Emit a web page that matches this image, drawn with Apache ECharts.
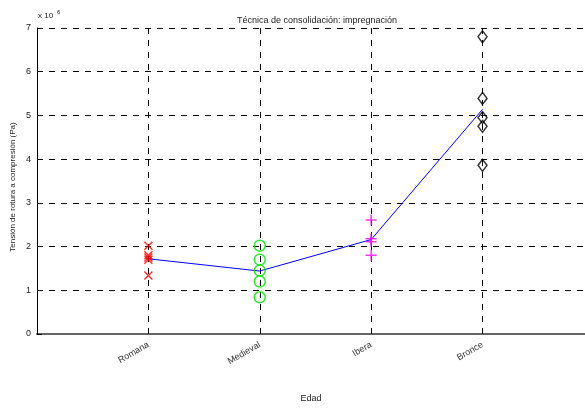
<!DOCTYPE html>
<html><head><meta charset="utf-8">
<script src="https://cdn.jsdelivr.net/npm/echarts@6/dist/echarts.min.js"></script>
<style>html,body{margin:0;padding:0;background:#fff}#c{width:585px;height:408px}</style>
</head><body><div id="c"></div>
<script>
const categories = ['Romana', 'Medieval', 'Ibera', 'Bronce'];
const romana = [2.02, 1.80, 1.75, 1.70, 1.34];
const medieval = [2.02, 1.70, 1.45, 1.20, 0.84];
const ibera = [2.61, 2.18, 2.11, 1.80];
const bronce = [6.80, 5.39, 4.95, 4.75, 3.86];
const means = [1.72, 1.44, 2.16, 5.14];
const yTicks = [0, 1, 2, 3, 4, 5, 6, 7];

const font = 'Liberation Sans, Arial, sans-serif';
const groups = [romana, medieval, ibera, bronce];
const styles = [
  {symbol: 'path://M0,0L10,10M10,0L0,10', size: 8, color: '#ff0000'},
  {symbol: 'circle', size: 11, color: '#00dd00'},
  {symbol: 'path://M5,0L5,10M0,5L10,5', size: 11, color: '#ff00ff'},
  {symbol: 'diamond', size: [9, 12], color: '#000000'}
];
const series = groups.map((g, i) => ({
  type: 'scatter',
  data: g.map(v => [i + 1, v]),
  symbol: styles[i].symbol,
  symbolSize: styles[i].size,
  itemStyle: {color: 'none', borderColor: styles[i].color, borderWidth: 1.5},
  z: 3,
  silent: true
}));
series.unshift({
  type: 'line',
  data: means.map((v, i) => [i + 1, v]),
  symbol: 'none',
  lineStyle: {color: '#0000ff', width: 1},
  z: 2,
  silent: true
});

const chart = echarts.init(document.getElementById('c'));
chart.setOption({
  animation: false,
  backgroundColor: '#fff',
  title: {
    text: 'Técnica de consolidación: impregnación',
    left: 312, top: 11, textAlign: 'center',
    textStyle: {fontFamily: font, fontSize: 9, fontWeight: 'normal', color: '#222'}
  },
  grid: {left: 37, top: 28, bottom: 72, right: 0, containLabel: false},
  xAxis: {
    type: 'value', min: 0, max: 4.92, interval: 1,
    name: 'Edad', nameLocation: 'middle', nameGap: 60,
    nameTextStyle: {fontFamily: font, fontSize: 9, color: '#222'},
    axisLine: {show: true, onZero: false, lineStyle: {color: '#666', width: 2}},
    axisTick: {show: true, inside: true, length: 6, lineStyle: {color: '#000'}},
    axisLabel: {
      fontFamily: font, fontSize: 9, color: '#333', rotate: 30, margin: 10,
      showMaxLabel: false,
      formatter: v => (v >= 1 && v <= categories.length && Number.isInteger(v)) ? categories[v - 1] : ''
    },
    splitLine: {show: true, lineStyle: {color: '#000', type: [6, 6], width: 1}}
  },
  yAxis: {
    type: 'value', min: 0, max: 7, interval: 1,
    axisLine: {show: true, lineStyle: {color: '#000', width: 1}},
    axisTick: {show: true, inside: true, length: 5, lineStyle: {color: '#000'}},
    axisLabel: {fontFamily: font, fontSize: 9, color: '#222', margin: 6,
      formatter: v => yTicks.includes(v) ? String(v) : ''},
    splitLine: {show: true, lineStyle: {color: '#000', type: [6, 6], width: 1}}
  },
  graphic: [
    {type: 'text', left: 38, top: 12, style: {text: 'x 10', font: '8px ' + font, fill: '#222'}},
    {type: 'text', left: 57, top: 9, style: {text: '6', font: '6px ' + font, fill: '#222'}},
    {type: 'text', x: 13, y: 187, rotation: Math.PI / 2,
      style: {text: 'Tensión de rotura a compresión (Pa)', font: '8px ' + font, fill: '#222',
        align: 'center', verticalAlign: 'middle'}}
  ],
  series: series
});
</script></body></html>
